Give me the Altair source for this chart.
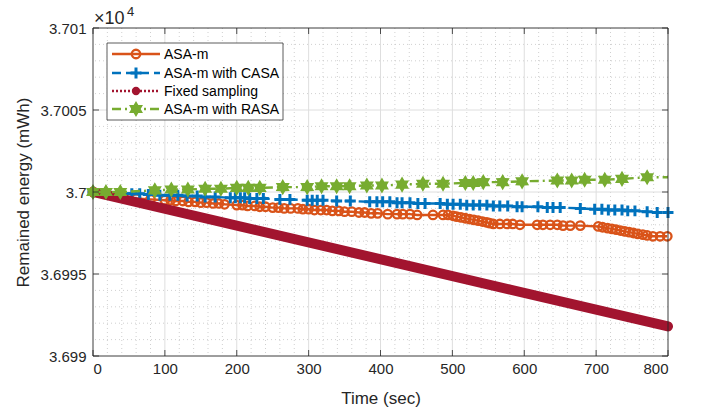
import math
import altair as alt
import pandas as pd

# ---------------- data ----------------
t_asa = [0, 20, 40, 60, 80, 100, 108, 115, 125, 133, 142, 150, 158, 167, 175, 183, 200, 208, 215, 225,
         232, 240, 250, 258, 266, 275, 285, 292, 300, 308, 317, 325, 333, 342, 350, 360, 370, 378, 387, 396,
         410, 423, 431, 441, 451, 473, 487, 494, 501, 506, 512, 518, 524, 530, 536, 542, 548, 552, 557, 566,
         576, 584, 594, 618, 626, 636, 646, 654, 664, 678, 703, 709, 716, 722, 728, 734, 740, 746, 752, 758,
         765, 771, 779, 789, 799]
e_asa = [37000.0, 36999.85, 36999.7, 36999.6, 36999.55, 36999.5, 36999.5, 36999.45, 36999.45, 36999.4,
         36999.4, 36999.35, 36999.35, 36999.3, 36999.3, 36999.25, 36999.2, 36999.2, 36999.15, 36999.15,
         36999.1, 36999.1, 36999.05, 36999.05, 36999.0, 36999.0, 36999.0, 36998.95, 36998.95, 36998.9,
         36998.9, 36998.9, 36998.85, 36998.85, 36998.8, 36998.8, 36998.75, 36998.75, 36998.7, 36998.7,
         36998.65, 36998.65, 36998.65, 36998.65, 36998.6, 36998.6, 36998.6, 36998.6, 36998.55, 36998.5,
         36998.45, 36998.4, 36998.35, 36998.3, 36998.25, 36998.2, 36998.15, 36998.1, 36998.05, 36998.05,
         36998.05, 36998.05, 36998.0, 36998.0, 36998.0, 36998.0, 36998.0, 36997.95, 36997.95, 36997.95,
         36997.9, 36997.85, 36997.8, 36997.75, 36997.7, 36997.65, 36997.6, 36997.55, 36997.5, 36997.45,
         36997.4, 36997.35, 36997.3, 36997.3, 36997.3]

t_casa = [0, 54, 65, 77, 93, 107, 118, 131, 145, 156, 170, 191, 198, 205, 211, 218, 228, 237, 260, 274,
          298, 305, 312, 320, 339, 358, 385, 395, 403, 413, 423, 430, 441, 452, 462, 483, 493, 501, 511, 520,
          529, 538, 548, 557, 566, 577, 590, 597, 619, 632, 640, 650, 678, 698, 708, 717, 726, 736, 744, 754,
          771, 785, 800]
e_casa = [37000.0, 36999.9, 36999.9, 36999.85, 36999.8, 36999.8, 36999.8, 36999.75, 36999.75, 36999.7,
          36999.7, 36999.65, 36999.65, 36999.65, 36999.65, 36999.6, 36999.6, 36999.6, 36999.55, 36999.55,
          36999.5, 36999.5, 36999.5, 36999.5, 36999.45, 36999.45, 36999.4, 36999.4, 36999.4, 36999.4,
          36999.35, 36999.35, 36999.35, 36999.3, 36999.3, 36999.3, 36999.25, 36999.25, 36999.25, 36999.2,
          36999.2, 36999.2, 36999.2, 36999.15, 36999.15, 36999.15, 36999.1, 36999.1, 36999.1, 36999.05,
          36999.05, 36999.05, 36999.0, 36998.95, 36998.95, 36998.9, 36998.9, 36998.9, 36998.85, 36998.85,
          36998.8, 36998.75, 36998.75]

t_fixed = [0, 800]
e_fixed = [37000.0, 36991.8]

t_rasa = [0, 18, 38, 86, 109, 132, 156, 178, 200, 216, 232, 264, 298, 318, 339, 357, 381, 402, 430, 459,
          487, 518, 529, 543, 570, 597, 646, 666, 684, 712, 736, 771, 800]
e_rasa = [37000.0, 37000.0, 37000.0, 37000.1, 37000.15, 37000.15, 37000.2, 37000.2, 37000.25, 37000.25,
          37000.25, 37000.3, 37000.3, 37000.35, 37000.35, 37000.35, 37000.4, 37000.4, 37000.45, 37000.5,
          37000.5, 37000.55, 37000.55, 37000.6, 37000.6, 37000.65, 37000.7, 37000.7, 37000.75, 37000.75,
          37000.8, 37000.9, 37000.9]
rasa_marker = [True] * (len(t_rasa) - 1) + [False]

series_names = ["ASA-m", "ASA-m with CASA", "Fixed sampling", "ASA-m with RASA"]
series_colors = ["#D95319", "#0072BD", "#A2142F", "#77AC30"]

x_major = [0, 100, 200, 300, 400, 500, 600, 700, 800]
y_major = [36990, 36995, 37000, 37005, 37010]
x_minor = list(range(0, 801, 20))
y_minor = list(range(36990, 37011, 1))

# ---------------- styling ----------------
W, H = 575, 328
FONT = "Liberation Sans"
TXT = "#262626"
LW = 2.4
CIRC_SIZE, PLUS_SIZE, HEX_SIZE = 72, 120, 260

plus_path = "M-1,0L1,0M0,-1L0,1"
pts = []
for k in range(12):
    ang = math.pi / 2 + k * math.pi / 6
    r = 1.0 if k % 2 == 0 else 0.58
    pts.append(f"{r * math.cos(ang):.3f},{-r * math.sin(ang):.3f}")
hexagram_path = "M" + "L".join(pts) + "Z"

xs = alt.Scale(domain=[0, 800], nice=False, zero=False)
ys = alt.Scale(domain=[36990, 37010], nice=False, zero=False)

X_AX = alt.Axis(values=x_major, title="Time (sec)", domain=False, ticks=False, grid=False,
                labelFontSize=15, labelFont=FONT, labelColor=TXT, labelPadding=5,
                titleFontSize=17, titleFont=FONT, titleColor=TXT, titleFontWeight="normal", titlePadding=14)
Y_AX = alt.Axis(values=y_major, title="Remained energy (mWh)", domain=False, ticks=False, grid=False,
                labelExpr="format(datum.value/10000, '~g')",
                labelFontSize=15, labelFont=FONT, labelColor=TXT, labelPadding=7,
                titleFontSize=17, titleFont=FONT, titleColor=TXT, titleFontWeight="normal", titlePadding=8)


def X(field):
    return alt.X(field, scale=xs, axis=X_AX, title="Time (sec)")


def Y(field):
    return alt.Y(field, scale=ys, axis=Y_AX, title="Remained energy (mWh)")


df_asa = pd.DataFrame({"t": t_asa, "e": e_asa})
df_casa = pd.DataFrame({"t": t_casa, "e": e_casa})
df_fixed = pd.DataFrame({"t": t_fixed, "e": e_fixed})
df_rasa = pd.DataFrame({"t": t_rasa, "e": e_rasa, "m": rasa_marker})

xmin_df = pd.DataFrame({"v": [v for v in x_minor if v % 100 != 0]})
ymin_df = pd.DataFrame({"v": [v for v in y_minor if v % 5 != 0]})
xmaj_df = pd.DataFrame({"v": x_major[1:-1]})
ymaj_df = pd.DataFrame({"v": y_major[1:-1]})
xtick_df = pd.DataFrame({"v": x_major})
ytick_df = pd.DataFrame({"v": y_major})

minor_x = alt.Chart(xmin_df).mark_rule(color="#c4c4c4", strokeWidth=0.8, strokeDash=[1, 3]).encode(x=X("v:Q"))
minor_y = alt.Chart(ymin_df).mark_rule(color="#c4c4c4", strokeWidth=0.8, strokeDash=[1, 3]).encode(y=Y("v:Q"))
major_x = alt.Chart(xmaj_df).mark_rule(color="#dedede", strokeWidth=1).encode(x=X("v:Q"))
major_y = alt.Chart(ymaj_df).mark_rule(color="#dedede", strokeWidth=1).encode(y=Y("v:Q"))

TL = 6
tick_b = alt.Chart(xtick_df).mark_rule(color=TXT, strokeWidth=0.8).encode(
    x=X("v:Q"), y=alt.value(H), y2=alt.value(H - TL))
tick_t = alt.Chart(xtick_df).mark_rule(color=TXT, strokeWidth=0.8).encode(
    x=X("v:Q"), y=alt.value(0), y2=alt.value(TL))
tick_l = alt.Chart(ytick_df).mark_rule(color=TXT, strokeWidth=0.8).encode(
    y=Y("v:Q"), x=alt.value(0), x2=alt.value(TL))
tick_r = alt.Chart(ytick_df).mark_rule(color=TXT, strokeWidth=0.8).encode(
    y=Y("v:Q"), x=alt.value(W), x2=alt.value(W - TL))

enc = dict(x=X("t:Q"), y=Y("e:Q"))

asa_line = alt.Chart(df_asa).mark_line(color=series_colors[0], strokeWidth=LW).encode(**enc)
asa_pts = alt.Chart(df_asa).mark_point(shape="circle", filled=False, color=series_colors[0],
                                       strokeWidth=2.3, size=CIRC_SIZE, opacity=1).encode(**enc)
casa_line = alt.Chart(df_casa).mark_line(color=series_colors[1], strokeWidth=LW, strokeDash=[9, 5]).encode(**enc)
casa_pts = alt.Chart(df_casa).mark_point(shape=plus_path, filled=False, color=series_colors[1],
                                         strokeWidth=3, size=PLUS_SIZE, opacity=1).encode(**enc)
fixed_line = alt.Chart(df_fixed).mark_line(color=series_colors[2], strokeWidth=10, strokeCap="round").encode(**enc)
rasa_line = alt.Chart(df_rasa).mark_line(color=series_colors[3], strokeWidth=LW, strokeDash=[9, 4, 2, 4]).encode(**enc)
rasa_pts = alt.Chart(df_rasa).transform_filter("datum.m").mark_point(
    shape=hexagram_path, filled=True, color=series_colors[3], size=HEX_SIZE, opacity=1).encode(**enc)

frame = alt.Chart(pd.DataFrame({"a": [0]})).mark_rect(fill=None, stroke=TXT, strokeWidth=0.9).encode(
    x=alt.value(0), x2=alt.value(W), y=alt.value(0), y2=alt.value(H))

exp_base = alt.Chart(pd.DataFrame({"s": ["×10"]})).mark_text(
    align="left", baseline="alphabetic", font=FONT, fontSize=18, color=TXT).encode(
    text="s:N", x=alt.value(1), y=alt.value(-4))
exp_pow = alt.Chart(pd.DataFrame({"s": ["4"]})).mark_text(
    align="left", baseline="alphabetic", font=FONT, fontSize=13, color=TXT).encode(
    text="s:N", x=alt.value(34), y=alt.value(-12))

LX0, LX1, LY0, LY1 = 14, 190, 15, 92
leg_rows = [26, 45, 63, 81]
legend_box = alt.Chart(pd.DataFrame({"a": [0]})).mark_rect(fill="white", stroke="#333333", strokeWidth=0.8).encode(
    x=alt.value(LX0), x2=alt.value(LX1), y=alt.value(LY0), y2=alt.value(LY1))
leg_layers = [legend_box]
dashes = [None, [9, 5], [2, 2], [9, 4, 2, 4]]
for i, name in enumerate(series_names):
    kw = dict(color=series_colors[i], strokeWidth=LW)
    if dashes[i] is not None:
        kw["strokeDash"] = dashes[i]
    leg_layers.append(alt.Chart(pd.DataFrame({"a": [0]})).mark_rule(**kw).encode(
        x=alt.value(19), x2=alt.value(67), y=alt.value(leg_rows[i])))
    leg_layers.append(alt.Chart(pd.DataFrame({"s": [name]})).mark_text(
        align="left", baseline="middle", font=FONT, fontSize=14, color="#000000").encode(
        text="s:N", x=alt.value(71), y=alt.value(leg_rows[i] + 1)))
mk = pd.DataFrame({"a": [0]})
leg_layers.append(alt.Chart(mk).mark_point(shape="circle", filled=False, color=series_colors[0], strokeWidth=2.3,
                                           size=CIRC_SIZE, opacity=1).encode(x=alt.value(43), y=alt.value(leg_rows[0])))
leg_layers.append(alt.Chart(mk).mark_point(shape=plus_path, filled=False, color=series_colors[1], strokeWidth=3,
                                           size=PLUS_SIZE, opacity=1).encode(x=alt.value(43), y=alt.value(leg_rows[1])))
leg_layers.append(alt.Chart(mk).mark_point(shape="circle", filled=True, color=series_colors[2],
                                           size=70, opacity=1).encode(x=alt.value(43), y=alt.value(leg_rows[2])))
leg_layers.append(alt.Chart(mk).mark_point(shape=hexagram_path, filled=True, color=series_colors[3],
                                           size=HEX_SIZE, opacity=1).encode(x=alt.value(43), y=alt.value(leg_rows[3])))

chart = alt.layer(
    minor_x, minor_y, major_x, major_y,
    asa_line, asa_pts, casa_line, casa_pts, fixed_line, rasa_line, rasa_pts,
    tick_b, tick_t, tick_l, tick_r, frame, exp_base, exp_pow, *leg_layers
).properties(
    width=W, height=H,
    autosize=alt.AutoSizeParams(type="none"),
    padding={"left": 93, "top": 28, "right": 41, "bottom": 56},
    background="white",
).configure_view(stroke=None)

chart.save("out.html", embed_options={"renderer": "svg", "actions": False})
